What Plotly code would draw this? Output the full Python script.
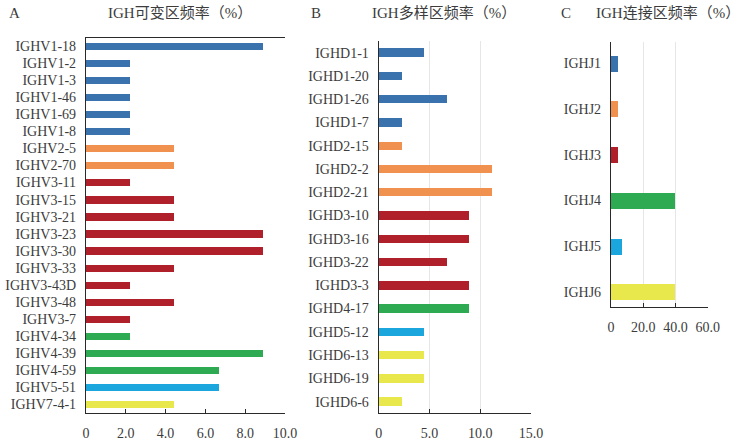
import plotly.graph_objects as go

# ---------------- data ----------------
v_genes = ["IGHV1-18", "IGHV1-2", "IGHV1-3", "IGHV1-46", "IGHV1-69", "IGHV1-8",
           "IGHV2-5", "IGHV2-70", "IGHV3-11", "IGHV3-15", "IGHV3-21", "IGHV3-23",
           "IGHV3-30", "IGHV3-33", "IGHV3-43D", "IGHV3-48", "IGHV3-7", "IGHV4-34",
           "IGHV4-39", "IGHV4-59", "IGHV5-51", "IGHV7-4-1"]
v_freq = [8.89, 2.22, 2.22, 2.22, 2.22, 2.22,
          4.44, 4.44, 2.22, 4.44, 4.44, 8.89,
          8.89, 4.44, 2.22, 4.44, 2.22, 2.22,
          8.89, 6.67, 6.67, 4.44]

d_genes = ["IGHD1-1", "IGHD1-20", "IGHD1-26", "IGHD1-7", "IGHD2-15", "IGHD2-2",
           "IGHD2-21", "IGHD3-10", "IGHD3-16", "IGHD3-22", "IGHD3-3", "IGHD4-17",
           "IGHD5-12", "IGHD6-13", "IGHD6-19", "IGHD6-6"]
d_freq = [4.44, 2.22, 6.67, 2.22, 2.22, 11.11,
          11.11, 8.89, 8.89, 6.67, 8.89, 8.89,
          4.44, 4.44, 4.44, 2.22]

j_genes = ["IGHJ1", "IGHJ2", "IGHJ3", "IGHJ4", "IGHJ5", "IGHJ6"]
j_freq = [4.44, 4.44, 4.44, 40.0, 6.67, 40.0]

a_ticks = [0, 2, 4, 6, 8, 10]
a_ticktext = ["0", "2.0", "4.0", "6.0", "8.0", "10.0"]
b_ticks = [0, 5, 10, 15]
b_ticktext = ["0", "5.0", "10.0", "15.0"]
c_ticks = [0, 20, 40, 60]
c_ticktext = ["0", "20.0", "40.0", "60.0"]

titles = ["IGH可变区频率（%）", "IGH多样区频率（%）", "IGH连接区频率（%）"]
panel_letters = ["A", "B", "C"]

# ---------------- style ----------------
family_colors = {"1": "#3A72AE", "2": "#F0914F", "3": "#B0202B",
                 "4": "#2DAA52", "5": "#1BA6DD", "6": "#E8E84C", "7": "#E8E84C"}
FONT = "Liberation Serif, Times New Roman, Noto Sans CJK SC, serif"
AXC = "#2a2a2a"
TXT = "#3c3c3c"


def colors_for(genes, prefix_len):
    return [family_colors[g[prefix_len]] for g in genes]


fig = go.Figure()
fig.add_trace(go.Bar(x=v_freq, y=v_genes, orientation="h", width=0.42,
                     marker=dict(color=colors_for(v_genes, 4), line=dict(width=0)),
                     xaxis="x", yaxis="y", showlegend=False))
fig.add_trace(go.Bar(x=d_freq, y=d_genes, orientation="h", width=0.36,
                     marker=dict(color=colors_for(d_genes, 4), line=dict(width=0)),
                     xaxis="x2", yaxis="y2", showlegend=False))
fig.add_trace(go.Bar(x=j_freq, y=j_genes, orientation="h", width=0.35,
                     marker=dict(color=colors_for(j_genes, 4), line=dict(width=0)),
                     xaxis="x3", yaxis="y3", showlegend=False))

W, H = 739, 442


def xd(a, b):
    return [a / W, b / W]


def yd(top, bottom):
    return [1 - bottom / H, 1 - top / H]


tickfont = dict(family=FONT, size=14, color=TXT)

common_x = dict(showline=True, linecolor=AXC, linewidth=1.2, ticks="inside",
                ticklen=4, tickcolor=AXC, tickwidth=1, tickfont=tickfont,
                ticklabelstandoff=7, zeroline=False, automargin=False)
common_y = dict(showline=True, linecolor=AXC, linewidth=1.2, ticks="",
                tickfont=tickfont, ticklabelstandoff=6, showgrid=False,
                zeroline=False, autorange=False, automargin=False)

fig.update_layout(
    width=W, height=H, margin=dict(l=0, r=0, t=0, b=0, autoexpand=False),
    plot_bgcolor="white", paper_bgcolor="white",
    font=dict(family=FONT, color=TXT),
    bargap=0,
    xaxis=dict(domain=xd(86, 285), range=[0, 10], tickvals=a_ticks,
               ticktext=a_ticktext, showgrid=False, mirror=True, anchor="y",
               **common_x),
    yaxis=dict(domain=yd(37.7, 412.7), range=[21.5, -0.5], anchor="x",
               **common_y),
    xaxis2=dict(domain=xd(378.7, 531), range=[0, 15], tickvals=b_ticks,
                ticktext=b_ticktext, showgrid=True, gridcolor="#e6e6e6",
                gridwidth=1, anchor="y2", **common_x),
    yaxis2=dict(domain=yd(41, 413.3), range=[15.5, -0.5], anchor="x2",
                **common_y),
    xaxis3=dict(domain=xd(611, 707.7), range=[0, 60], tickvals=c_ticks,
                ticktext=c_ticktext, showgrid=True, gridcolor="#e6e6e6",
                gridwidth=1, anchor="y3", **common_x),
    yaxis3=dict(domain=yd(41.7, 306.7), range=[5.32, -0.47], anchor="x3",
                **common_y),
)

title_pos = [179.5, 444, 668]
letter_pos = [14, 316, 566]
for t, tx, l, lx in zip(titles, title_pos, panel_letters, letter_pos):
    fig.add_annotation(text=t, x=tx / W, y=1 - 13 / H, xref="paper", yref="paper",
                       showarrow=False, xanchor="center", yanchor="middle",
                       font=dict(family=FONT, size=15, color=TXT))
    fig.add_annotation(text=l, x=lx / W, y=1 - 13 / H, xref="paper", yref="paper",
                       showarrow=False, xanchor="center", yanchor="middle",
                       font=dict(family=FONT, size=15, color=TXT))

fig.write_html("out.html",
               config={"displayModeBar": False},
               post_script="document.body.style.margin='0';"
                           "document.body.style.overflow='hidden';")
